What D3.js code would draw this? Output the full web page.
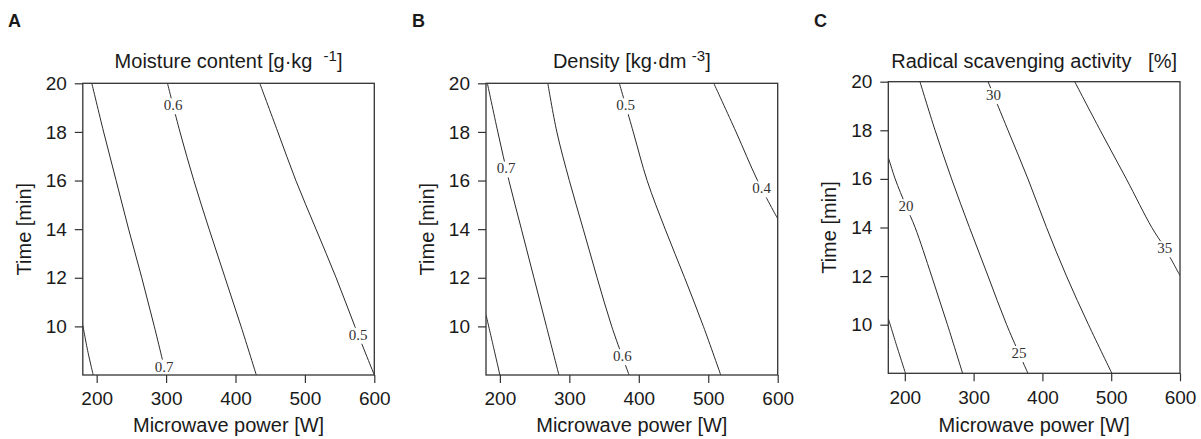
<!DOCTYPE html>
<html>
<head>
<meta charset="utf-8">
<script src="https://cdn.jsdelivr.net/npm/d3@7/dist/d3.min.js"></script>
<style>
  html, body { margin: 0; padding: 0; background: #fff; }
  svg text { font-family: "Liberation Sans", Arial, sans-serif; fill: #1a1a1a; }
  .clabel { font-family: "Liberation Serif", "Times New Roman", serif; font-size: 15px; fill: #333; }
</style>
</head>
<body>
<svg id="chart" width="1201" height="439"></svg>
<script>
// Shared axes
const powerTicks = [200, 300, 400, 500, 600];
const timeTicks = [10, 12, 14, 16, 18, 20];
const timeDomain = [8, 20];
const powerDomainAB = [180, 600];
const powerDomainC = [176, 600];

// A: moisture content contours, each as [power W, time min] points
const moistureLevels = [0.8, 0.7, 0.6, 0.5];
const moisture08 = [[180, 10.05], [187, 9.0], [195, 8.0]];
const moisture07 = [[193, 20], [210, 18], [228, 16], [246, 14], [265, 12], [283, 10], [300, 8]];
const moisture06 = [[302, 20], [320, 18], [340, 16], [362, 14], [385, 12], [408, 10], [430, 8]];
const moisture05 = [[435, 20], [461, 18], [487, 16], [516, 14], [545, 12], [572, 10], [600, 8]];
const moistureLabelTimes = [null, 8.35, 19.1, 9.66];

// B: density contours
const densityLevels = [0.8, 0.7, 0.6, 0.5, 0.4];
const density08 = [[180, 10.48], [190, 9.25], [200, 8.0]];
const density07 = [[182, 20], [197, 18], [213, 16], [231, 14], [249, 12], [267, 10], [285, 8]];
const density06 = [[269, 20], [282, 18], [300, 16], [320, 14], [340, 12], [361, 10], [386, 8]];
const density05 = [[372, 20], [392, 18], [412, 16], [438, 14], [466, 12], [493, 10], [518, 8]];
const density04 = [[508, 20], [540, 18], [571, 16], [600, 14.43]];
const densityLabelTimes = [null, 16.5, 8.78, 19.1, 15.68];

// C: radical scavenging activity contours
const radicalLevels = [15, 20, 25, 30, 35];
const radical15 = [[176, 10.26], [188, 9.15], [201, 8.0]];
const radical20 = [[176, 16.89], [186, 16], [201.5, 14.9], [215, 14], [239, 12], [262, 10], [284, 8]];
const radical25 = [[222, 20], [244, 18], [268, 16], [294, 14], [321, 12], [348, 10], [379, 8]];
const radical30 = [[321, 20], [350, 18], [379, 16], [406, 14], [435, 12], [467, 10], [501, 8]];
const radical35 = [[447, 20], [484, 18], [522, 16], [559, 14], [577, 13.2], [600, 12.02]];
const radicalLabelTimes = [null, 14.88, 8.84, 19.45, 13.15];

const svg = d3.select("#chart");

const panels = [
  {
    letter: "A", letterX: 8,
    title: ["Moisture content [g·kg  ", "-1", "]"],
    left: 82.8, top: 83.3, width: 291.5, height: 291.7,
    powerDomain: powerDomainAB,
    levels: moistureLevels,
    lines: [moisture08, moisture07, moisture06, moisture05],
    labelTimes: moistureLabelTimes,
    fmt: d3.format(".1f")
  },
  {
    letter: "B", letterX: 412,
    title: ["Density [kg·dm ", "-3", "]"],
    left: 486, top: 83.3, width: 291.7, height: 291.7,
    powerDomain: powerDomainAB,
    levels: densityLevels,
    lines: [density08, density07, density06, density05, density04],
    labelTimes: densityLabelTimes,
    fmt: d3.format(".1f")
  },
  {
    letter: "C", letterX: 814,
    title: ["Radical scavenging activity   [%]"],
    left: 888.3, top: 81.7, width: 291.7, height: 291.6,
    powerDomain: powerDomainC,
    levels: radicalLevels,
    lines: [radical15, radical20, radical25, radical30, radical35],
    labelTimes: radicalLabelTimes,
    fmt: d3.format("d")
  }
];

// power on a contour polyline at a given time (linear between read points)
function powerAt(pts, t) {
  for (let i = 0; i < pts.length - 1; i++) {
    const a = pts[i], b = pts[i + 1];
    const lo = Math.min(a[1], b[1]), hi = Math.max(a[1], b[1]);
    if (t >= lo && t <= hi) {
      const f = (t - a[1]) / (b[1] - a[1]);
      return a[0] + f * (b[0] - a[0]);
    }
  }
  return pts[pts.length - 1][0];
}

panels.forEach((p, pi) => {
  const g = svg.append("g");
  const x = d3.scaleLinear().domain(p.powerDomain).range([p.left, p.left + p.width]);
  const y = d3.scaleLinear().domain(timeDomain).range([p.top + p.height, p.top]);

  const clipId = "clip" + pi;
  svg.append("clipPath").attr("id", clipId)
    .append("rect")
    .attr("x", p.left).attr("y", p.top)
    .attr("width", p.width).attr("height", p.height);

  const plot = g.append("g").attr("clip-path", `url(#${clipId})`);

  const line = d3.line()
    .x(d => x(d[0]))
    .y(d => y(d[1]))
    .curve(d3.curveCatmullRom.alpha(0.5));

  p.lines.forEach(pts => {
    plot.append("path")
      .attr("d", line(pts))
      .attr("fill", "none")
      .attr("stroke", "#2a2a2a")
      .attr("stroke-width", 1);
  });

  // contour value labels, with the line broken behind them
  p.lines.forEach((pts, i) => {
    const t = p.labelTimes[i];
    if (t == null) return;
    const cx = x(powerAt(pts, t)), cy = y(t);
    const lg = plot.append("g");
    const bg = lg.append("rect").attr("fill", "#fff");
    const txt = lg.append("text")
      .attr("class", "clabel")
      .attr("x", cx).attr("y", cy)
      .attr("dy", "0.34em")
      .attr("text-anchor", "middle")
      .text(p.fmt(p.levels[i]));
    const bb = txt.node().getBBox();
    bg.attr("x", bb.x - 1.5).attr("y", bb.y + 1)
      .attr("width", bb.width + 3).attr("height", bb.height);
  });

  // axes
  const xAxis = g.append("g")
    .attr("transform", `translate(0,${p.top + p.height})`)
    .call(d3.axisBottom(x).tickValues(powerTicks).tickSize(8).tickPadding(9).tickFormat(d3.format("d")));
  const yAxis = g.append("g")
    .attr("transform", `translate(${p.left},0)`)
    .call(d3.axisLeft(y).tickValues(timeTicks).tickSize(8).tickPadding(8).tickFormat(d3.format("d")));
  [xAxis, yAxis].forEach(a => {
    a.select(".domain").remove();
    a.selectAll(".tick line").attr("stroke", "#333").attr("stroke-width", 1.2);
    a.selectAll(".tick text")
      .attr("font-family", "'Liberation Sans', Arial, sans-serif")
      .attr("font-size", 19)
      .attr("fill", "#1a1a1a");
  });

  // frame
  g.append("rect")
    .attr("x", p.left).attr("y", p.top)
    .attr("width", p.width).attr("height", p.height)
    .attr("fill", "none")
    .attr("stroke", "#333")
    .attr("stroke-width", 1.3);

  // axis titles
  g.append("text")
    .attr("x", p.left + p.width / 2)
    .attr("y", 432)
    .attr("text-anchor", "middle")
    .attr("font-size", 20)
    .text("Microwave power [W]");

  g.append("text")
    .attr("transform", `translate(${p.left - 52},${p.top + p.height / 2}) rotate(-90)`)
    .attr("text-anchor", "middle")
    .attr("font-size", 20)
    .text("Time [min]");

  // panel title
  const title = g.append("text")
    .attr("x", p.left + p.width / 2)
    .attr("y", 68)
    .attr("text-anchor", "middle")
    .attr("font-size", 20)
    .style("white-space", "pre");
  title.append("tspan").text(p.title[0]);
  if (p.title.length > 1) {
    title.append("tspan").attr("dy", -7).attr("font-size", 15).text(p.title[1]);
    title.append("tspan").attr("dy", 7).text(p.title[2]);
  }

  // panel letter
  g.append("text")
    .attr("x", p.letterX)
    .attr("y", 27)
    .attr("font-size", 18)
    .attr("font-weight", "bold")
    .text(p.letter);
});
</script>
</body>
</html>
